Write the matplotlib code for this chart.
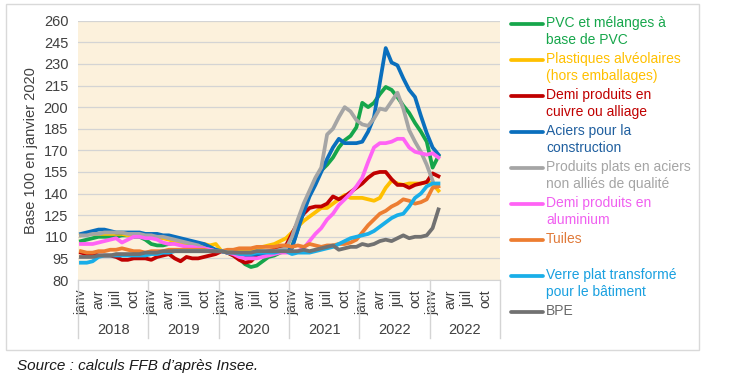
import numpy as np
import matplotlib
matplotlib.use("Agg")
import matplotlib.pyplot as plt
from matplotlib.lines import Line2D
from matplotlib.patches import Rectangle
import matplotlib.transforms as mtransforms

plt.rcParams['font.family'] = ['Liberation Sans', 'DejaVu Sans']

# monthly indices, Jan 2018 -> Feb 2023 (base 100 = Jan 2020)
pvc = [107, 108, 109, 110, 110, 110, 110, 111, 111, 110, 110, 108,
       105, 104, 104, 105, 106, 106, 104, 103, 103, 102, 101, 100,
       100, 99, 97, 95, 91, 89, 90, 93, 96, 97, 99, 100,
       103, 115, 128, 140, 150, 156, 160, 165, 172, 177, 180, 186,
       203, 200, 203, 209, 214, 212, 207, 201, 196, 189, 183, 176, 158, 166]
plastiques = [111, 112, 112, 112, 112, 112, 112, 112, 111, 111, 111, 110,
              110, 109, 109, 108, 107, 106, 104, 103, 103, 105, 104, 105,
              100, 100, 100, 101, 101, 101, 102, 103, 104, 105, 107, 109,
              113, 117, 121, 124, 127, 130, 130, 133, 136, 139, 137, 137,
              137, 136, 135, 137, 144, 149, 147, 146, 147, 147, 147, 148, 147, 142]
cuivre = [99, 98, 98, 97, 97, 97, 96, 94, 94, 95, 95, 95,
          94, 96, 97, 98, 95, 93, 96, 95, 95, 96, 97, 98,
          100, 99, 97, 94, 92, 93, 97, 99, 100, 101, 103, 104,
          112, 120, 126, 130, 131, 131, 133, 138, 136, 138, 141, 144,
          147, 151, 154, 155, 155, 150, 146, 146, 144, 146, 147, 148, 154, 152]
aciers = [112, 113, 114, 115, 115, 114, 113, 113, 113, 113, 113, 112,
          112, 112, 111, 111, 110, 109, 108, 107, 106, 105, 103, 101,
          100, 99, 99, 98, 97, 97, 98, 98, 99, 99, 100, 100,
          102, 115, 127, 138, 146, 155, 164, 172, 178, 175, 175, 175,
          176, 183, 193, 217, 241, 231, 229, 220, 212, 207, 194, 182, 172, 167]
plats = [111, 111, 112, 112, 113, 113, 113, 113, 112, 112, 112, 111,
         111, 110, 110, 109, 108, 107, 106, 105, 104, 102, 101, 100,
         100, 99, 99, 99, 99, 99, 100, 100, 100, 100, 101, 102,
         110, 122, 133, 142, 151, 158, 181, 185, 193, 200, 197, 191,
         188, 187, 192, 199, 198, 204, 210, 199, 184, 176, 169, 160, 149, np.nan]
alu = [105, 105, 105, 106, 107, 108, 109, 106, 108, 110, 110, 109,
       109, 108, 106, 105, 105, 104, 103, 103, 102, 102, 101, 100,
       100, 99, 98, 96, 95, 95, 95, 96, 97, 98, 99, 99,
       99, 100, 102, 107, 112, 116, 122, 126, 132, 136, 140, 145,
       151, 162, 172, 175, 175, 176, 178, 178, 172, 169, 168, 167, 168, 165]
tuiles = [100, 99, 99, 100, 100, 101, 101, 102, 101, 100, 100, 99,
          100, 100, 100, 101, 101, 101, 101, 101, 101, 101, 100, 100,
          100, 101, 101, 102, 102, 102, 103, 103, 103, 103, 104, 104,
          103, 104, 103, 105, 104, 103, 104, 104, 105, 105, 106, 108,
          113, 118, 122, 126, 128, 131, 133, 136, 135, 133, 134, 136, 144, 145]
verre = [92, 92, 93, 96, 97, 97, 97, 97, 97, 97, 97, 97,
         98, 98, 99, 99, 100, 100, 100, 100, 100, 100, 100, 100,
         100, 99, 99, 98, 98, 98, 99, 99, 99, 99, 100, 100,
         98, 99, 99, 99, 100, 101, 102, 103, 105, 107, 109, 110,
         111, 112, 114, 117, 120, 123, 125, 126, 131, 137, 140, 145, 147, 147]
bpe = [96, 96, 96, 97, 97, 97, 98, 98, 98, 98, 98, 99,
       99, 99, 100, 100, 100, 100, 100, 100, 100, 100, 100, 100,
       100, 99, 99, 99, 99, 99, 100, 100, 100, 100, 100, 100,
       100, 100, 101, 100, 101, 102, 103, 104, 101, 102, 103, 103,
       105, 104, 105, 107, 108, 107, 109, 111, 109, 110, 110, 111, 116, 129]

series = [
    ("PVC et mélanges à\nbase de PVC", pvc, "#16a64b", "#16a64b"),
    ("Plastiques alvéolaires\n(hors emballages)", plastiques, "#ffc000", "#ffc000"),
    ("Demi produits en\ncuivre ou alliage", cuivre, "#c00000", "#c00000"),
    ("Aciers pour la\nconstruction", aciers, "#0a6fbd", "#1f5f9f"),
    ("Produits plats en aciers\nnon alliés de qualité", plats, "#a5a5a5", "#a5a5a5"),
    ("Demi produits en\naluminium", alu, "#ff63f5", "#f060f0"),
    ("Tuiles", tuiles, "#ed7d31", "#e07a3a"),
    ("Verre plat transformé\npour le bâtiment", verre, "#19aee8", "#19a0e0"),
    ("BPE", bpe, "#717171", "#6a6a6a"),
]

years = ["2018", "2019", "2020", "2021", "2022", "2022"]
months = ["janv", "avr", "juil", "oct"]
n_cat = 12 * len(years)

W, H = 735, 378
fig = plt.figure(figsize=(W / 100, H / 100), dpi=100)
fig.patch.set_facecolor("white")

# outer frame
fig.add_artist(Rectangle((6 / W, 1 - 350 / H), 693 / W, 346 / H, transform=fig.transFigure,
                         fill=False, edgecolor="#d9d9d9", linewidth=1))

ax = fig.add_axes([78 / W, 1 - 280 / H, 422 / W, 259.3 / H])
ax.set_facecolor("#fcf1dc")

x = np.arange(len(pvc))
for label, vals, col, tcol in series:
    ax.plot(x, vals, color=col, linewidth=2.7, solid_joinstyle="round")

ax.set_xlim(-0.5, n_cat - 0.5)
ax.set_ylim(80, 260)
ax.set_yticks(np.arange(80, 261, 15))
ax.grid(axis="y", color="#d4d4d4", linewidth=0.9)
ax.set_axisbelow(True)
for s in ["top", "left", "right"]:
    ax.spines[s].set_visible(False)
ax.spines["bottom"].set_color("#d4d4d4")
ax.tick_params(axis="y", length=0, labelsize=10.5, labelcolor="#404040", pad=7)

tick_pos = [12 * i + 3 * j for i in range(len(years)) for j in range(4)]
ax.set_xticks(tick_pos)
ax.set_xticklabels(months * len(years), rotation=90, va="top", ha="center")
ax.tick_params(axis="x", length=0, labelsize=10, labelcolor="#404040", pad=7)

trans = mtransforms.blended_transform_factory(ax.transData, ax.transAxes)
for i in range(len(years) + 1):
    ax.plot([12 * i - 0.5] * 2, [0, -0.224], transform=trans, color="#d4d4d4",
            linewidth=1, clip_on=False)
for i, yr in enumerate(years):
    ax.text(12 * i + 5.5, -0.193, yr, transform=trans, ha="center", va="center",
            fontsize=10.5, color="#404040")

ax.set_ylabel("Base 100 en janvier 2020", fontsize=10.5, color="#404040")
ax.yaxis.set_label_coords(-0.095, 0.5)

# legend on the right
for k, (label, vals, col, tcol) in enumerate(series):
    yl = 24 + 36 * k
    fig.add_artist(Line2D([511 / W, 543 / W], [1 - yl / H] * 2, transform=fig.transFigure,
                          color=col, linewidth=2.7, solid_capstyle="round"))
    fig.text(546 / W, 1 - (yl - 8) / H, label, ha="left", va="top", fontsize=10,
             color=tcol, linespacing=1.25)

fig.text(17 / W, 1 - 366 / H, "Source : calculs FFB d\u2019après Insee.", fontsize=11,
         style="italic", color="#1a1a1a", ha="left", va="center")

fig.savefig("out.png", dpi=100)
